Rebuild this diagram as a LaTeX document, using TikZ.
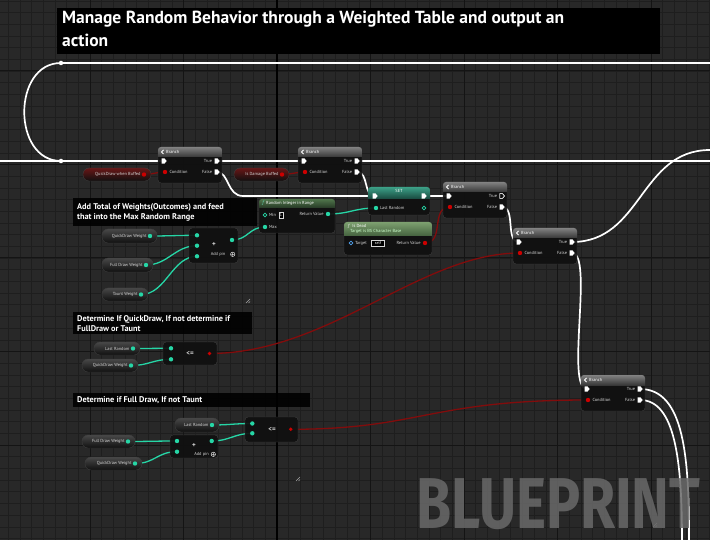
\documentclass[tikz,border=0pt]{standalone}
\usepackage{fontspec}
\setmainfont{PT Sans}
\newfontfamily\markfont[FakeStretch=0.79]{Fira Sans}
\usetikzlibrary{calc}
\definecolor{bpbg}{RGB}{40,40,40}
\definecolor{bpminor}{RGB}{30,30,30}
\definecolor{bpmajor}{RGB}{20,20,20}
\definecolor{bpbody}{RGB}{16,16,16}
\definecolor{bpedge}{RGB}{62,62,62}
\definecolor{bpteal}{RGB}{38,214,166}
\definecolor{bpred}{RGB}{205,0,0}
\definecolor{bpwire}{RGB}{130,12,12}
\definecolor{bpblue}{RGB}{80,160,235}
\definecolor{bptext}{RGB}{215,215,215}
\definecolor{branchtop}{RGB}{130,130,130}
\definecolor{branchbot}{RGB}{55,55,55}
\definecolor{funtop}{RGB}{80,118,75}
\definecolor{funbot}{RGB}{38,56,38}
\definecolor{deadtop}{RGB}{125,160,112}
\definecolor{deadbot}{RGB}{68,98,62}
\definecolor{settop}{RGB}{60,160,135}
\definecolor{setbot}{RGB}{24,72,62}
\definecolor{pillred}{RGB}{105,22,22}
\definecolor{pillgray}{RGB}{72,72,72}
\definecolor{bpmark}{RGB}{105,105,105}
\pgfdeclarelayer{grid}
\pgfdeclarelayer{wires}
\pgfsetlayers{grid,wires,main}

\begin{document}
\begin{tikzpicture}[
    x=1pt, y=-1pt,
    minorline/.style={bpminor, line width=0.6pt},
    majorline/.style={bpmajor, line width=1pt},
    exec/.style={white, line width=1.7pt},
    intwire/.style={bpteal, line width=1.3pt},
    boolwire/.style={bpwire, line width=1.3pt},
    nodebody/.style={fill=bpbody, fill opacity=0.92, draw=bpedge, line width=0.4pt, rounded corners=3pt},
    pinlabel/.style={font=\fontsize{4.4}{5}\selectfont, text=bptext, inner sep=0.3pt},
    headtext/.style={font=\fontsize{4.4}{5}\selectfont, text=white, inner sep=0pt},
    optext/.style={font=\fontsize{7}{7}\selectfont\bfseries, text=bptext, inner sep=0pt},
    valbox/.style={draw=bptext, fill=black, line width=0.4pt, font=\fontsize{4}{4}\selectfont,
      text=white, inner sep=0.8pt, minimum height=5.5pt},
    reroute/.style={circle, fill=white, inner sep=0pt, minimum size=4.5pt},
    commentfill/.style={fill=black, fill opacity=0.88},
    commenttext/.style={font=\fontsize{8.3}{10}\selectfont\bfseries, text=white, align=left,
      anchor=north west, inner sep=0pt},
    titletext/.style={font=\fontsize{17.5}{22.5}\selectfont\bfseries, text=white, align=left,
      anchor=north west, inner sep=0pt},
    execpin/.pic={\fill[white] (-2.4,-2.6) -- (0.5,-2.6) -- (2.7,0) -- (0.5,2.6) -- (-2.4,2.6) -- cycle;},
    execopen/.pic={\draw[white, fill=bpbody, line width=0.6pt] (-2.2,-2.4) -- (0.4,-2.4) -- (2.4,0) -- (0.4,2.4) -- (-2.2,2.4) -- cycle;}
  ]
  \useasboundingbox (0,0) rectangle (710,540);

  % Graph grid
  \begin{pgfonlayer}{grid}
    \fill[bpbg] (0,0) rectangle (710,540);
    \foreach \i in {0,...,60}
      \draw[minorline] ({8.19+\i*11.6875},0) -- ++(0,540);
    \foreach \i in {0,...,46}
      \draw[minorline] (0,{0.88+\i*11.6875}) -- ++(710,0);
    \foreach \x in {90,183.5,370.5,464,557.5,651}
      \draw[majorline] (\x,0) -- ++(0,540);
    \foreach \y in {71,164.5,258,351.5,445}
      \draw[majorline] (0,\y) -- ++(710,0);
    \draw[black, line width=1.8pt] (277,0) -- ++(0,540);
  \end{pgfonlayer}

  % Big comment title
  \fill[black] (57,8) rectangle (660,54);
  \node[titletext] (title) at (62,11) {Manage Random Behavior through a Weighted Table and output an\\action};

  % Group comments
  \fill[commentfill] (73,198) rectangle (257,226);
  \node[commenttext] (c1) at (77,203) {Add Total of Weights(Outcomes) and feed\\that into the Max Random Range};
  \fill[commentfill] (73,312) rectangle (252,334);
  \node[commenttext] (c2) at (77,315) {Determine If QuickDraw, If not determine if\\FullDraw or Taunt};
  \fill[commentfill] (73,393) rectangle (310,407);
  \node[commenttext] (c3) at (77,396.5) {Determine if Full Draw, If not Taunt};
  \foreach \x/\y in {250/303, 300/481, 657/527}
    \draw[gray!70, line width=0.5pt] ({\x-4},\y) -- (\x,{\y-4}) ({\x-1.5},\y) -- (\x,{\y-1.5});

  % Reroute points
  \node[reroute] (rr1) at (61,63) {};
  \node[reroute] (rr2) at (61,161) {};
  \coordinate (top-in) at (710,63);
  \coordinate (left-in) at (0,161);
  \coordinate (right-out1) at (710,161);
  \coordinate (right-out2) at (710,150);
  \coordinate (bot-out1) at (689,540);
  \coordinate (bot-out2) at (682,540);

  % Branch nodes
  \foreach \n/\x/\y in {b1/158/147, b2/298/147, b3/443/182, b4/513/228, b5/581/375} {
    \begin{scope}[shift={(\x,\y)}]
      \draw[nodebody] (0,0) rectangle (64,36);
      \begin{scope}
        \clip[rounded corners=3pt] (0,0) rectangle (64,36);
        \shade[top color=branchtop, bottom color=branchbot] (0,0) rectangle (64,10);
      \end{scope}
      \draw[white, line width=0.8pt] (5.5,3) -- (3.5,5) -- (5.5,7);
      \node[headtext, anchor=west] (\n-head) at (8,5) {Branch};
      \coordinate (\n-in) at (6,14);
      \coordinate (\n-true) at (59,14);
      \coordinate (\n-cond) at (7,25);
      \coordinate (\n-false) at (59,25);
      \pic at (\n-in) {execpin};
      \pic at (\n-true) {execpin};
      \pic at (\n-false) {execpin};
      \fill[bpred] (\n-cond) circle (2.2);
      \node[pinlabel, anchor=east] (\n-tl) at (54.5,14) {True};
      \node[pinlabel, anchor=east] (\n-fl) at (54.5,25) {False};
      \node[pinlabel, anchor=west] (\n-cl) at (11,25) {Condition};
    \end{scope}
  }
  \pic at (b3-true) {execopen};

  % Variable getters
  \foreach \n/\xa/\ya/\xb/\yb/\txt/\tc/\pc in {
      qdb/83/168/151/181/QuickDraw when Buffed/pillred/bpred,
      idb/234/168/289/181/Is Damage Buffed/pillred/bpred,
      qdw1/102/229/157/243/QuickDraw Weight/pillgray/bpteal,
      fdw1/102/258/153/272/Full Draw Weight/pillgray/bpteal,
      tw1/102/288/148/301/Taunt Weight/pillgray/bpteal,
      lr2/94/342/140/355/Last Random/pillgray/bpteal,
      qdw2/82/359/138/372/QuickDraw Weight/pillgray/bpteal,
      lr3/175/418/219/432/Last Random/pillgray/bpteal,
      fdw3/82/435/135/448/Full Draw Weight/pillgray/bpteal,
      qdw3/85/457/142/470/QuickDraw Weight/pillgray/bpteal} {
    \shadedraw[top color=\tc, bottom color=bpbody, draw=bpedge, line width=0.4pt, rounded corners=6pt]
      (\xa,\ya) rectangle (\xb,\yb);
    \coordinate (\n) at ({\xb-7},{(\ya+\yb)/2});
    \fill[\pc] (\n) circle (2.2);
    \node[pinlabel, anchor=east] (\n-lbl) at ({\xb-10},{(\ya+\yb)/2}) {\txt};
  }

  % Random Integer in Range
  \draw[nodebody] (259,199) rectangle (335,233);
  \begin{scope}
    \clip[rounded corners=3pt] (259,199) rectangle (335,233);
    \shade[top color=funtop, bottom color=funbot] (259,199) rectangle (335,208);
  \end{scope}
  \node[headtext, font=\fontsize{5}{5}\selectfont\itshape, text=bpteal!70] (rir-f) at (263,203.5) {f};
  \node[headtext, anchor=west] (rir-title) at (266,203.5) {Random Integer in Range};
  \coordinate (rir-min) at (265,215);
  \coordinate (rir-max) at (265,227);
  \coordinate (rir-ret) at (328,214);
  \draw[bpteal, line width=0.7pt] (rir-min) circle (1.8);
  \fill[bpteal] (rir-max) circle (2.2);
  \fill[bpteal] (rir-ret) circle (2.2);
  \node[pinlabel, anchor=west] (rir-minl) at (268.5,215) {Min};
  \node[valbox] (rir-minv) at (281,215) {1};
  \node[pinlabel, anchor=west] (rir-maxl) at (268.5,227) {Max};
  \node[pinlabel, anchor=east] (rir-retl) at (324,214) {Return Value};

  % Is Dead
  \draw[nodebody] (344,222) rectangle (432,255);
  \begin{scope}
    \clip[rounded corners=3pt] (344,222) rectangle (432,255);
    \shade[top color=deadtop, bottom color=deadbot] (344,222) rectangle (432,236);
  \end{scope}
  \node[headtext, anchor=west] (dead-title) at (348,226.5) {\textit{f}\enspace Is Dead};
  \node[headtext, anchor=west, text=white!80!green] (dead-sub) at (350,231.5) {Target is BS Character Base};
  \coordinate (dead-tgt) at (351,243);
  \coordinate (dead-ret) at (425,243);
  \draw[bpblue, line width=0.7pt] (dead-tgt) circle (1.8);
  \fill[bpred] (dead-ret) circle (2.2);
  \node[pinlabel, anchor=west] (dead-tgtl) at (354.5,243) {Target};
  \node[valbox, minimum width=13pt] (dead-self) at (378,243) {self};
  \node[pinlabel, anchor=east] (dead-retl) at (421,243) {Return Value};

  % SET Last Random
  \draw[nodebody] (368,187) rectangle (430,215);
  \begin{scope}
    \clip[rounded corners=3pt] (368,187) rectangle (430,215);
    \shade[top color=settop, bottom color=setbot] (368,187) rectangle (430,199);
  \end{scope}
  \node[headtext] (set-title) at (399,191) {SET};
  \coordinate (set-in) at (375,196);
  \coordinate (set-out) at (424,196);
  \coordinate (set-lr) at (376,208);
  \coordinate (set-lro) at (424,208);
  \pic at (set-in) {execpin};
  \pic at (set-out) {execpin};
  \fill[bpteal] (set-lr) circle (2.2);
  \draw[bpteal, line width=0.7pt] (set-lro) circle (1.8);
  \node[pinlabel, anchor=west] (set-lrl) at (379.5,208) {Last Random};

  % Sum of the weights
  \draw[nodebody] (189,228) rectangle (238,263);
  \coordinate (add1-a) at (197,235.3);
  \coordinate (add1-b) at (197,245.7);
  \coordinate (add1-c) at (197,256.3);
  \coordinate (add1-out) at (232,240);
  \foreach \p in {add1-a, add1-b, add1-c, add1-out}
    \fill[bpteal] (\p) circle (2.2);
  \node[optext] (add1-op) at (214,245) {+};
  \node[pinlabel] (add1-pin) at (218,254.3) {Add pin};
  \draw[bptext, line width=0.5pt] (232.7,254.3) circle (2.2)
    (231.3,254.3) -- (234.1,254.3) (232.7,252.9) -- (232.7,255.7);

  % QuickDraw test
  \draw[nodebody] (163,342) rectangle (217,365);
  \coordinate (le2-a) at (171,348.3);
  \coordinate (le2-b) at (171,359.3);
  \coordinate (le2-out) at (209.5,353.5);
  \fill[bpteal] (le2-a) circle (2.2);
  \fill[bpteal] (le2-b) circle (2.2);
  \fill[bpred] (le2-out) circle (1.9);
  \node[optext] (le2-op) at (190,353.5) {<=};

  % Full Draw test
  \draw[nodebody] (170,435) rectangle (218,458);
  \coordinate (add3-a) at (177,441);
  \coordinate (add3-b) at (177,451.7);
  \coordinate (add3-out) at (211.7,441);
  \foreach \p in {add3-a, add3-b, add3-out}
    \fill[bpteal] (\p) circle (2.2);
  \node[optext] (add3-op) at (194,446) {+};
  \node[pinlabel] (add3-pin) at (201.5,454.3) {Add pin};
  \draw[bptext, line width=0.5pt] (213.3,454.3) circle (2.2)
    (211.9,454.3) -- (214.7,454.3) (213.3,452.9) -- (213.3,455.7);
  \draw[nodebody] (245,417) rectangle (298,442);
  \coordinate (le3-a) at (252.3,423.5);
  \coordinate (le3-b) at (252.3,433.3);
  \coordinate (le3-out) at (290.7,429.3);
  \fill[bpteal] (le3-a) circle (2.2);
  \fill[bpteal] (le3-b) circle (2.2);
  \fill[bpred] (le3-out) circle (1.9);
  \node[optext] (le3-op) at (272,429.3) {<=};

  % Wires
  \begin{pgfonlayer}{wires}
    % exec flow
    \draw[exec] (top-in) -- (rr1.center) .. controls +(-49,0) and +(-49,0) .. (rr2.center);
    \draw[exec] (left-in) -- (rr2.center) -- (b1-in);
    \draw[exec] (b1-true) -- (b2-in);
    \draw[exec] (b1-false) .. controls +(12,0) and +(-16,0) .. ++(26,24) -- (set-in);
    \draw[exec] (b2-false) .. controls +(12,0) and +(-12,0) .. (set-in);
    \draw[exec] (b2-true) -- (right-out1);
    \draw[exec] (set-out) -- (b3-in);
    \draw[exec] (b3-false) .. controls +(14,0) and +(-14,0) .. (b4-in);
    \draw[exec] (b4-true) .. controls +(70,0) and +(-70,0) .. (right-out2);
    \draw[exec] (b4-false) .. controls +(22,0) and +(-22,0) .. (b5-in);
    \draw[exec] (b5-true) .. controls +(45,0) and +(0,-80) .. (bot-out1);
    \draw[exec] (b5-false) .. controls +(35,0) and +(0,-80) .. (bot-out2);
    % booleans
    \draw[boolwire] (qdb) .. controls +(8,0) and +(-8,0) .. (b1-cond);
    \draw[boolwire] (idb) .. controls +(8,0) and +(-8,0) .. (b2-cond);
    \draw[boolwire] (dead-ret) .. controls +(20,0) and +(-20,0) .. (b3-cond);
    \draw[boolwire] (le2-out) .. controls +(120,0) and +(-100,0) .. (b4-cond);
    \draw[boolwire] (le3-out) .. controls +(130,0) and +(-160,0) .. (b5-cond);
    % integers
    \draw[intwire] (qdw1) .. controls +(20,0) and +(-20,0) .. (add1-a);
    \draw[intwire] (fdw1) .. controls +(22,0) and +(-22,0) .. (add1-b);
    \draw[intwire] (tw1) .. controls +(25,0) and +(-25,0) .. (add1-c);
    \draw[intwire] (add1-out) .. controls +(16,0) and +(-16,0) .. (rir-max);
    \draw[intwire] (rir-ret) .. controls +(22,0) and +(-22,0) .. (set-lr);
    \draw[intwire] (lr2) .. controls +(18,0) and +(-18,0) .. (le2-a);
    \draw[intwire] (qdw2) .. controls +(18,0) and +(-18,0) .. (le2-b);
    \draw[intwire] (lr3) .. controls +(18,0) and +(-18,0) .. (le3-a);
    \draw[intwire] (fdw3) .. controls +(20,0) and +(-20,0) .. (add3-a);
    \draw[intwire] (qdw3) .. controls +(20,0) and +(-20,0) .. (add3-b);
    \draw[intwire] (add3-out) .. controls +(18,0) and +(-18,0) .. (le3-b);
  \end{pgfonlayer}

  % Watermark
  \node[anchor=base west, inner sep=0pt, text=bpmark, opacity=0.85,
    font=\fontsize{72}{72}\markfont\bfseries] (watermark) at (416,528) {BLUEPRINT};
\end{tikzpicture}
\end{document}
